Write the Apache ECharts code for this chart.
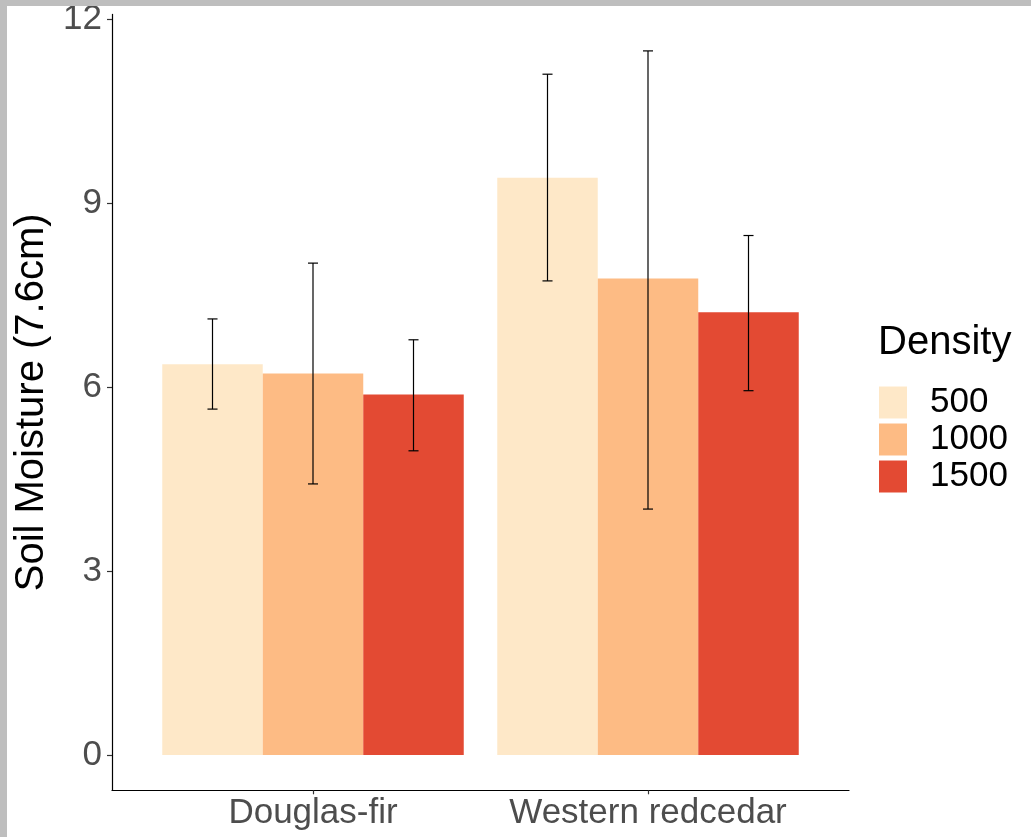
<!DOCTYPE html>
<html>
<head>
<meta charset="utf-8">
<script src="https://cdn.jsdelivr.net/npm/echarts@6/dist/echarts.min.js"></script>
<style>
  html, body { margin:0; padding:0; background:#fff; }
  #chart { position:absolute; left:0; top:0; width:1031px; height:837px; }
  .frame { position:absolute; background:#bebebe; z-index:10; }
</style>
</head>
<body>
<div id="chart"></div>
<div class="frame" style="left:0;top:0;width:1031px;height:6px;"></div>
<div class="frame" style="left:0;top:0;width:7px;height:837px;"></div>
<script>
// ---- data ----
const categories = ['Douglas-fir', 'Western redcedar'];
const densities = ['500', '1000', '1500'];
const colors = ['#FEE8C8', '#FDBB84', '#E34A33'];
const means500  = [6.37, 9.41];
const means1000 = [6.22, 7.77];
const means1500 = [5.88, 7.22];
const lower500  = [5.64, 7.73];
const upper500  = [7.11, 11.10];
const lower1000 = [4.42, 4.01];
const upper1000 = [8.02, 11.48];
const lower1500 = [4.96, 5.94];
const upper1500 = [6.77, 8.47];
const yTicks = [0, 3, 6, 9, 12];

const means = [means500, means1000, means1500];
const lowers = [lower500, lower1000, lower1500];
const uppers = [upper500, upper1000, upper1500];

const groupWidth = 0.9;
const barW = groupWidth / densities.length;
const capHalf = 0.015;
const FONT = 'Liberation Sans, Arial, sans-serif';

const chart = echarts.init(document.getElementById('chart'), null, {renderer: 'canvas'});

function barRender(si) {
  return function (params, api) {
    const x = api.value(0), y = api.value(1);
    const x0 = x - groupWidth / 2 + si * barW;
    const p0 = api.coord([x0, y]);
    const p1 = api.coord([x0 + barW, 0]);
    return {
      type: 'rect',
      shape: {x: p0[0], y: p0[1], width: p1[0] - p0[0], height: p1[1] - p0[1]},
      style: {fill: colors[si]}
    };
  };
}

function errRender(params, api) {
  const x = api.value(0), lo = api.value(1), hi = api.value(2);
  const top = api.coord([x, hi]);
  const bot = api.coord([x, lo]);
  const l = api.coord([x - capHalf, hi]);
  const r = api.coord([x + capHalf, hi]);
  const lb = api.coord([x - capHalf, lo]);
  const rb = api.coord([x + capHalf, lo]);
  const st = {stroke: '#000', lineWidth: 1.2};
  return {
    type: 'group',
    children: [
      {type: 'line', shape: {x1: top[0], y1: top[1], x2: bot[0], y2: bot[1]}, style: st},
      {type: 'line', shape: {x1: l[0], y1: l[1], x2: r[0], y2: r[1]}, style: st},
      {type: 'line', shape: {x1: lb[0], y1: lb[1], x2: rb[0], y2: rb[1]}, style: st}
    ]
  };
}

const series = [];
densities.forEach(function (d, si) {
  series.push({
    name: d,
    type: 'custom',
    renderItem: barRender(si),
    itemStyle: {color: colors[si]},
    encode: {x: 0, y: 1},
    data: categories.map(function (c, ci) { return [ci + 1, means[si][ci]]; }),
    silent: true
  });
});
const errData = [];
densities.forEach(function (d, si) {
  categories.forEach(function (c, ci) {
    const xc = ci + 1 - groupWidth / 2 + (si + 0.5) * barW;
    errData.push([xc, lowers[si][ci], uppers[si][ci]]);
  });
});
series.push({
  name: 'err',
  type: 'custom',
  renderItem: errRender,
  encode: {x: 0, y: [1, 2]},
  data: errData,
  silent: true,
  z: 5
});

const option = {
  animation: false,
  backgroundColor: '#fff',
  title: {
    text: 'Density',
    left: 878,
    top: 323,
    padding: 0,
    textStyle: {fontFamily: FONT, fontSize: 40, fontWeight: 'normal', color: '#000'}
  },
  legend: {
    data: densities,
    orient: 'vertical',
    left: 879,
    top: 385,
    padding: 0,
    icon: 'rect',
    itemWidth: 28,
    itemHeight: 32,
    itemGap: 2,
    selectedMode: false,
    textStyle: {fontFamily: FONT, fontSize: 35, color: '#000', lineHeight: 32, padding: [0, 0, 0, 18]}
  },
  grid: {left: 112, right: 182, top: 14.4, bottom: 46.7, containLabel: false, outerBoundsMode: 'none'},
  xAxis: {
    type: 'value',
    min: 0.4,
    max: 2.6,
    splitLine: {show: false},
    axisLine: {show: true, onZero: false, lineStyle: {color: '#000', width: 1.2}},
    axisTick: {show: true, length: 4, customValues: [1, 2], lineStyle: {color: '#333', width: 1.2}},
    axisLabel: {
      customValues: [1, 2],
      margin: 6,
      fontFamily: FONT,
      fontSize: 35,
      color: '#4D4D4D',
      formatter: function (v) { return categories[Math.round(v) - 1] || ''; }
    }
  },
  yAxis: {
    type: 'value',
    min: -0.575,
    max: 12.075,
    name: 'Soil Moisture (7.6cm)',
    nameLocation: 'middle',
    nameGap: 48,
    nameTextStyle: {fontFamily: FONT, fontSize: 40, color: '#000'},
    splitLine: {show: false},
    axisLine: {show: true, onZero: false, lineStyle: {color: '#000', width: 1.2}},
    axisTick: {show: true, length: 5, customValues: yTicks, lineStyle: {color: '#333', width: 1.2}},
    axisLabel: {
      customValues: yTicks,
      margin: 10,
      fontFamily: FONT,
      fontSize: 35,
      color: '#4D4D4D'
    }
  },
  series: series
};
chart.setOption(option);
</script>
</body>
</html>
